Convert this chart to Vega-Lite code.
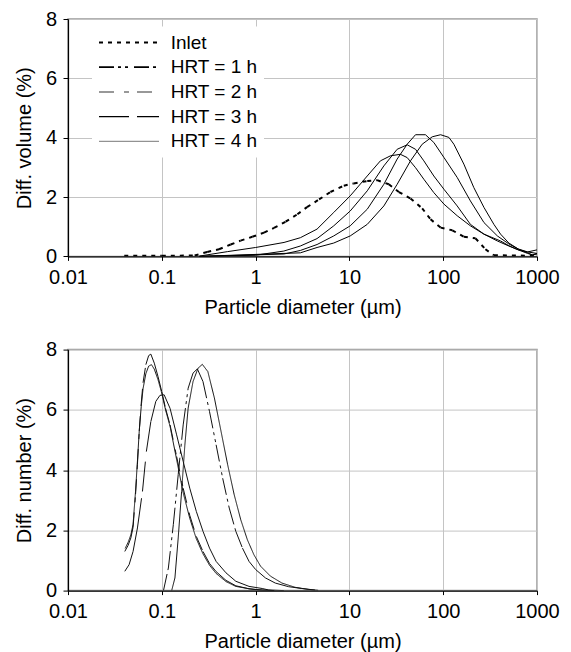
{
  "$schema": "https://vega.github.io/schema/vega-lite/v6.json",
  "background": "white",
  "padding": {"left": 14, "top": 8, "right": 5, "bottom": 5},
  "bounds": "flush",
  "spacing": 92.6,
  "datasets": {
    "vol": [
      {"s": "Inlet", "d": 0.0398, "v": 0.02}, {"s": "Inlet", "d": 0.1, "v": 0.02}, {"s": "Inlet", "d": 0.224, "v": 0.03},
      {"s": "Inlet", "d": 0.305, "v": 0.15}, {"s": "Inlet", "d": 0.407, "v": 0.24}, {"s": "Inlet", "d": 0.542, "v": 0.4},
      {"s": "Inlet", "d": 0.692, "v": 0.53}, {"s": "Inlet", "d": 0.923, "v": 0.66}, {"s": "Inlet", "d": 1.23, "v": 0.8},
      {"s": "Inlet", "d": 1.57, "v": 0.96}, {"s": "Inlet", "d": 2.09, "v": 1.17}, {"s": "Inlet", "d": 2.79, "v": 1.42},
      {"s": "Inlet", "d": 3.53, "v": 1.66}, {"s": "Inlet", "d": 4.75, "v": 1.92}, {"s": "Inlet", "d": 6.27, "v": 2.17},
      {"s": "Inlet", "d": 8.71, "v": 2.38}, {"s": "Inlet", "d": 11.1, "v": 2.46}, {"s": "Inlet", "d": 15.5, "v": 2.54},
      {"s": "Inlet", "d": 19.7, "v": 2.57}, {"s": "Inlet", "d": 26.3, "v": 2.43}, {"s": "Inlet", "d": 33.7, "v": 2.17},
      {"s": "Inlet", "d": 44.8, "v": 1.95}, {"s": "Inlet", "d": 59.7, "v": 1.62}, {"s": "Inlet", "d": 73.3, "v": 1.25},
      {"s": "Inlet", "d": 93.8, "v": 0.97}, {"s": "Inlet", "d": 125, "v": 0.88}, {"s": "Inlet", "d": 166, "v": 0.66},
      {"s": "Inlet", "d": 221, "v": 0.61}, {"s": "Inlet", "d": 282, "v": 0.24}, {"s": "Inlet", "d": 347, "v": 0.04},
      {"s": "Inlet", "d": 1000, "v": 0.02},

      {"s": "HRT = 1 h", "d": 0.251, "v": 0.01}, {"s": "HRT = 1 h", "d": 0.5, "v": 0.16}, {"s": "HRT = 1 h", "d": 1.0, "v": 0.3},
      {"s": "HRT = 1 h", "d": 2.01, "v": 0.47}, {"s": "HRT = 1 h", "d": 3.0, "v": 0.63}, {"s": "HRT = 1 h", "d": 4.52, "v": 0.92},
      {"s": "HRT = 1 h", "d": 6.81, "v": 1.48}, {"s": "HRT = 1 h", "d": 10.2, "v": 2.04}, {"s": "HRT = 1 h", "d": 15.5, "v": 2.71},
      {"s": "HRT = 1 h", "d": 21.4, "v": 3.22}, {"s": "HRT = 1 h", "d": 27.4, "v": 3.39}, {"s": "HRT = 1 h", "d": 35.0, "v": 3.44},
      {"s": "HRT = 1 h", "d": 41.3, "v": 3.33}, {"s": "HRT = 1 h", "d": 50.7, "v": 2.99}, {"s": "HRT = 1 h", "d": 62.2, "v": 2.6},
      {"s": "HRT = 1 h", "d": 79.4, "v": 2.15}, {"s": "HRT = 1 h", "d": 102, "v": 1.76}, {"s": "HRT = 1 h", "d": 141, "v": 1.37},
      {"s": "HRT = 1 h", "d": 195, "v": 1.03}, {"s": "HRT = 1 h", "d": 272, "v": 0.75}, {"s": "HRT = 1 h", "d": 378, "v": 0.52},
      {"s": "HRT = 1 h", "d": 501, "v": 0.35}, {"s": "HRT = 1 h", "d": 631, "v": 0.22}, {"s": "HRT = 1 h", "d": 794, "v": 0.15},
      {"s": "HRT = 1 h", "d": 1000, "v": 0.22},

      {"s": "HRT = 2 h", "d": 0.251, "v": 0.0}, {"s": "HRT = 2 h", "d": 1.0, "v": 0.04}, {"s": "HRT = 2 h", "d": 2.0, "v": 0.18},
      {"s": "HRT = 2 h", "d": 3.0, "v": 0.35}, {"s": "HRT = 2 h", "d": 4.52, "v": 0.6}, {"s": "HRT = 2 h", "d": 6.81, "v": 1.03},
      {"s": "HRT = 2 h", "d": 10.2, "v": 1.53}, {"s": "HRT = 2 h", "d": 15.5, "v": 2.21}, {"s": "HRT = 2 h", "d": 23.3, "v": 3.05},
      {"s": "HRT = 2 h", "d": 32.3, "v": 3.61}, {"s": "HRT = 2 h", "d": 41.3, "v": 3.76}, {"s": "HRT = 2 h", "d": 50.7, "v": 3.61},
      {"s": "HRT = 2 h", "d": 62.2, "v": 3.22}, {"s": "HRT = 2 h", "d": 79.4, "v": 2.71}, {"s": "HRT = 2 h", "d": 102, "v": 2.26},
      {"s": "HRT = 2 h", "d": 141, "v": 1.7}, {"s": "HRT = 2 h", "d": 195, "v": 1.08}, {"s": "HRT = 2 h", "d": 272, "v": 0.75},
      {"s": "HRT = 2 h", "d": 409, "v": 0.52}, {"s": "HRT = 2 h", "d": 501, "v": 0.36}, {"s": "HRT = 2 h", "d": 631, "v": 0.22},
      {"s": "HRT = 2 h", "d": 794, "v": 0.1}, {"s": "HRT = 2 h", "d": 891, "v": 0.05}, {"s": "HRT = 2 h", "d": 1000, "v": 0.1},

      {"s": "HRT = 3 h", "d": 0.251, "v": 0.0}, {"s": "HRT = 3 h", "d": 2.0, "v": 0.08}, {"s": "HRT = 3 h", "d": 3.0, "v": 0.2},
      {"s": "HRT = 3 h", "d": 4.52, "v": 0.4}, {"s": "HRT = 3 h", "d": 6.81, "v": 0.69}, {"s": "HRT = 3 h", "d": 10.2, "v": 1.03},
      {"s": "HRT = 3 h", "d": 15.5, "v": 1.59}, {"s": "HRT = 3 h", "d": 23.3, "v": 2.43}, {"s": "HRT = 3 h", "d": 32.3, "v": 3.28},
      {"s": "HRT = 3 h", "d": 41.3, "v": 3.78}, {"s": "HRT = 3 h", "d": 50.7, "v": 4.1}, {"s": "HRT = 3 h", "d": 64.7, "v": 4.1},
      {"s": "HRT = 3 h", "d": 79.4, "v": 3.84}, {"s": "HRT = 3 h", "d": 102, "v": 3.33}, {"s": "HRT = 3 h", "d": 141, "v": 2.66},
      {"s": "HRT = 3 h", "d": 195, "v": 1.87}, {"s": "HRT = 3 h", "d": 272, "v": 1.14}, {"s": "HRT = 3 h", "d": 378, "v": 0.69},
      {"s": "HRT = 3 h", "d": 501, "v": 0.42}, {"s": "HRT = 3 h", "d": 631, "v": 0.25}, {"s": "HRT = 3 h", "d": 794, "v": 0.15},
      {"s": "HRT = 3 h", "d": 1000, "v": 0.1},

      {"s": "HRT = 4 h", "d": 0.251, "v": 0.0}, {"s": "HRT = 4 h", "d": 3.0, "v": 0.12}, {"s": "HRT = 4 h", "d": 4.52, "v": 0.3},
      {"s": "HRT = 4 h", "d": 6.81, "v": 0.45}, {"s": "HRT = 4 h", "d": 10.2, "v": 0.69}, {"s": "HRT = 4 h", "d": 15.5, "v": 1.08},
      {"s": "HRT = 4 h", "d": 23.3, "v": 1.7}, {"s": "HRT = 4 h", "d": 32.3, "v": 2.43}, {"s": "HRT = 4 h", "d": 44.8, "v": 3.22},
      {"s": "HRT = 4 h", "d": 59.7, "v": 3.78}, {"s": "HRT = 4 h", "d": 76.4, "v": 4.03}, {"s": "HRT = 4 h", "d": 93.8, "v": 4.1},
      {"s": "HRT = 4 h", "d": 115, "v": 4.01}, {"s": "HRT = 4 h", "d": 130, "v": 3.78}, {"s": "HRT = 4 h", "d": 166, "v": 3.11},
      {"s": "HRT = 4 h", "d": 212, "v": 2.32}, {"s": "HRT = 4 h", "d": 272, "v": 1.65}, {"s": "HRT = 4 h", "d": 347, "v": 1.08},
      {"s": "HRT = 4 h", "d": 409, "v": 0.75}, {"s": "HRT = 4 h", "d": 501, "v": 0.45}, {"s": "HRT = 4 h", "d": 631, "v": 0.25},
      {"s": "HRT = 4 h", "d": 794, "v": 0.12}, {"s": "HRT = 4 h", "d": 891, "v": 0.05}, {"s": "HRT = 4 h", "d": 1000, "v": 0.08}
    ],
    "num": [
      {"s": "Inlet", "d": 0.1274, "v": 0}, {"s": "Inlet", "d": 0.138, "v": 0.42}, {"s": "Inlet", "d": 0.1496, "v": 1.75},
      {"s": "Inlet", "d": 0.1626, "v": 3.29}, {"s": "Inlet", "d": 0.1762, "v": 4.84}, {"s": "Inlet", "d": 0.191, "v": 6.06},
      {"s": "Inlet", "d": 0.2153, "v": 6.94}, {"s": "Inlet", "d": 0.2432, "v": 7.38}, {"s": "Inlet", "d": 0.2704, "v": 7.51},
      {"s": "Inlet", "d": 0.3097, "v": 7.27}, {"s": "Inlet", "d": 0.3639, "v": 6.39}, {"s": "Inlet", "d": 0.4285, "v": 5.28},
      {"s": "Inlet", "d": 0.5035, "v": 4.18}, {"s": "Inlet", "d": 0.5916, "v": 3.18}, {"s": "Inlet", "d": 0.695, "v": 2.35},
      {"s": "Inlet", "d": 0.8166, "v": 1.69}, {"s": "Inlet", "d": 0.9594, "v": 1.19}, {"s": "Inlet", "d": 1.13, "v": 0.81},
      {"s": "Inlet", "d": 1.439, "v": 0.48}, {"s": "Inlet", "d": 1.91, "v": 0.25}, {"s": "Inlet", "d": 2.636, "v": 0.11},
      {"s": "Inlet", "d": 3.639, "v": 0.04}, {"s": "Inlet", "d": 4.645, "v": 0.01},

      {"s": "HRT = 1 h", "d": 0.1042, "v": 0}, {"s": "HRT = 1 h", "d": 0.1175, "v": 0.75}, {"s": "HRT = 1 h", "d": 0.1327, "v": 2.19},
      {"s": "HRT = 1 h", "d": 0.1496, "v": 3.85}, {"s": "HRT = 1 h", "d": 0.169, "v": 5.5}, {"s": "HRT = 1 h", "d": 0.191, "v": 6.72},
      {"s": "HRT = 1 h", "d": 0.2153, "v": 7.22}, {"s": "HRT = 1 h", "d": 0.2393, "v": 7.36}, {"s": "HRT = 1 h", "d": 0.2748, "v": 6.94},
      {"s": "HRT = 1 h", "d": 0.3228, "v": 5.94}, {"s": "HRT = 1 h", "d": 0.3793, "v": 4.84}, {"s": "HRT = 1 h", "d": 0.4457, "v": 3.73},
      {"s": "HRT = 1 h", "d": 0.5236, "v": 2.74}, {"s": "HRT = 1 h", "d": 0.6152, "v": 1.97}, {"s": "HRT = 1 h", "d": 0.7244, "v": 1.41},
      {"s": "HRT = 1 h", "d": 0.851, "v": 0.97}, {"s": "HRT = 1 h", "d": 1.0, "v": 0.7}, {"s": "HRT = 1 h", "d": 1.274, "v": 0.42},
      {"s": "HRT = 1 h", "d": 1.622, "v": 0.25}, {"s": "HRT = 1 h", "d": 2.244, "v": 0.13}, {"s": "HRT = 1 h", "d": 3.097, "v": 0.07},
      {"s": "HRT = 1 h", "d": 4.285, "v": 0.02},

      {"s": "HRT = 2 h", "d": 0.0403, "v": 1.3}, {"s": "HRT = 2 h", "d": 0.0437, "v": 1.5}, {"s": "HRT = 2 h", "d": 0.0468, "v": 1.75},
      {"s": "HRT = 2 h", "d": 0.0494, "v": 2.1}, {"s": "HRT = 2 h", "d": 0.0525, "v": 3.2}, {"s": "HRT = 2 h", "d": 0.055, "v": 4.2},
      {"s": "HRT = 2 h", "d": 0.0575, "v": 5.3}, {"s": "HRT = 2 h", "d": 0.0603, "v": 6.2}, {"s": "HRT = 2 h", "d": 0.0631, "v": 6.9},
      {"s": "HRT = 2 h", "d": 0.0676, "v": 7.5}, {"s": "HRT = 2 h", "d": 0.0724, "v": 7.8}, {"s": "HRT = 2 h", "d": 0.0764, "v": 7.85},
      {"s": "HRT = 2 h", "d": 0.0832, "v": 7.55}, {"s": "HRT = 2 h", "d": 0.0912, "v": 7.1}, {"s": "HRT = 2 h", "d": 0.1, "v": 6.6},
      {"s": "HRT = 2 h", "d": 0.1096, "v": 6.05}, {"s": "HRT = 2 h", "d": 0.1225, "v": 5.5}, {"s": "HRT = 2 h", "d": 0.1439, "v": 4.45},
      {"s": "HRT = 2 h", "d": 0.169, "v": 3.4}, {"s": "HRT = 2 h", "d": 0.1986, "v": 2.5}, {"s": "HRT = 2 h", "d": 0.2333, "v": 1.8},
      {"s": "HRT = 2 h", "d": 0.2748, "v": 1.3}, {"s": "HRT = 2 h", "d": 0.3228, "v": 0.9}, {"s": "HRT = 2 h", "d": 0.3793, "v": 0.63},
      {"s": "HRT = 2 h", "d": 0.4831, "v": 0.34}, {"s": "HRT = 2 h", "d": 0.6152, "v": 0.16}, {"s": "HRT = 2 h", "d": 0.851, "v": 0.06},
      {"s": "HRT = 2 h", "d": 1.084, "v": 0.02}, {"s": "HRT = 2 h", "d": 1.585, "v": 0.0},

      {"s": "HRT = 3 h", "d": 0.0403, "v": 0.64}, {"s": "HRT = 3 h", "d": 0.0448, "v": 0.86}, {"s": "HRT = 3 h", "d": 0.0494, "v": 1.3},
      {"s": "HRT = 3 h", "d": 0.055, "v": 2.08}, {"s": "HRT = 3 h", "d": 0.0622, "v": 3.29}, {"s": "HRT = 3 h", "d": 0.0685, "v": 4.62},
      {"s": "HRT = 3 h", "d": 0.0764, "v": 5.61}, {"s": "HRT = 3 h", "d": 0.0863, "v": 6.28}, {"s": "HRT = 3 h", "d": 0.0955, "v": 6.48},
      {"s": "HRT = 3 h", "d": 0.1059, "v": 6.5}, {"s": "HRT = 3 h", "d": 0.1225, "v": 6.05}, {"s": "HRT = 3 h", "d": 0.1439, "v": 5.17},
      {"s": "HRT = 3 h", "d": 0.169, "v": 4.29}, {"s": "HRT = 3 h", "d": 0.1986, "v": 3.4}, {"s": "HRT = 3 h", "d": 0.2333, "v": 2.63},
      {"s": "HRT = 3 h", "d": 0.2748, "v": 1.97}, {"s": "HRT = 3 h", "d": 0.3228, "v": 1.41}, {"s": "HRT = 3 h", "d": 0.3793, "v": 0.97},
      {"s": "HRT = 3 h", "d": 0.4831, "v": 0.59}, {"s": "HRT = 3 h", "d": 0.6152, "v": 0.31}, {"s": "HRT = 3 h", "d": 0.851, "v": 0.14},
      {"s": "HRT = 3 h", "d": 1.175, "v": 0.07}, {"s": "HRT = 3 h", "d": 1.38, "v": 0.02}, {"s": "HRT = 3 h", "d": 2.0, "v": 0.0},

      {"s": "HRT = 4 h", "d": 0.0407, "v": 1.4}, {"s": "HRT = 4 h", "d": 0.0437, "v": 1.6}, {"s": "HRT = 4 h", "d": 0.0468, "v": 1.85},
      {"s": "HRT = 4 h", "d": 0.0494, "v": 2.2}, {"s": "HRT = 4 h", "d": 0.0525, "v": 3.3}, {"s": "HRT = 4 h", "d": 0.055, "v": 4.3},
      {"s": "HRT = 4 h", "d": 0.0575, "v": 5.3}, {"s": "HRT = 4 h", "d": 0.0603, "v": 6.1}, {"s": "HRT = 4 h", "d": 0.0631, "v": 6.7},
      {"s": "HRT = 4 h", "d": 0.0676, "v": 7.2}, {"s": "HRT = 4 h", "d": 0.0724, "v": 7.45}, {"s": "HRT = 4 h", "d": 0.0776, "v": 7.5},
      {"s": "HRT = 4 h", "d": 0.0832, "v": 7.35}, {"s": "HRT = 4 h", "d": 0.0912, "v": 7.0}, {"s": "HRT = 4 h", "d": 0.1, "v": 6.55},
      {"s": "HRT = 4 h", "d": 0.1096, "v": 6.0}, {"s": "HRT = 4 h", "d": 0.1225, "v": 5.45}, {"s": "HRT = 4 h", "d": 0.1439, "v": 4.35},
      {"s": "HRT = 4 h", "d": 0.169, "v": 3.25}, {"s": "HRT = 4 h", "d": 0.1986, "v": 2.4}, {"s": "HRT = 4 h", "d": 0.2333, "v": 1.72},
      {"s": "HRT = 4 h", "d": 0.2748, "v": 1.22}, {"s": "HRT = 4 h", "d": 0.3228, "v": 0.84}, {"s": "HRT = 4 h", "d": 0.3793, "v": 0.57},
      {"s": "HRT = 4 h", "d": 0.4831, "v": 0.3}, {"s": "HRT = 4 h", "d": 0.6152, "v": 0.14}, {"s": "HRT = 4 h", "d": 0.851, "v": 0.06},
      {"s": "HRT = 4 h", "d": 1.175, "v": 0.02}, {"s": "HRT = 4 h", "d": 1.585, "v": 0.0}
    ]
  },
  "vconcat": [
    {
      "width": 469,
      "height": 237.4,
      "data": {"name": "vol"},
      "transform": [
        {"window": [{"op": "lead", "field": "d", "as": "d2"}, {"op": "lead", "field": "v", "as": "v2"}], "groupby": ["s"], "sort": [{"field": "d"}]},
        {"filter": "datum.d2 != null"}
      ],
      "encoding": {
        "x": {"field": "d", "type": "quantitative", "scale": {"type": "log", "domain": [0.01, 1000]},
              "axis": {"values": [0.01, 0.1, 1, 10, 100, 1000], "format": "~g", "title": "Particle diameter (µm)"}},
        "y": {"field": "v", "type": "quantitative", "scale": {"domain": [0, 8], "nice": false},
              "axis": {"values": [0, 2, 4, 6, 8], "format": "d", "title": "Diff. volume (%)"}}
      },
      "layer": [
        {
          "transform": [{"filter": "datum.s == 'Inlet'"}],
          "mark": {"type": "rule", "clip": true, "color": "#000000", "strokeWidth": 2, "strokeDash": [4, 5]},
          "encoding": {"x2": {"field": "d2"}, "y2": {"field": "v2"}}
        },
        {
          "transform": [{"filter": "datum.s != 'Inlet'"}],
          "mark": {"type": "rule", "clip": true, "color": "#000000", "strokeWidth": 1},
          "encoding": {"x2": {"field": "d2"}, "y2": {"field": "v2"}}
        },
        {
          "transform": [{"filter": "datum.d < 0"}],
          "mark": {"type": "rule"},
          "encoding": {
            "color": {"field": "s", "type": "nominal",
                  "scale": {"domain": ["Inlet", "HRT = 1 h", "HRT = 2 h", "HRT = 3 h", "HRT = 4 h"], "range": ["#000000", "#000000", "#777777", "#000000", "#777777"]},
                  "legend": {"title": null, "orient": "none", "legendX": 24, "legendY": 7.5, "symbolSize": 3600, "labelOffset": 10.7, "rowPadding": 4.7}},
            "strokeDash": {"field": "s", "type": "nominal",
                  "scale": {"domain": ["Inlet", "HRT = 1 h", "HRT = 2 h", "HRT = 3 h", "HRT = 4 h"], "range": [[4, 5], [15, 4, 3, 4, 3, 6], [15, 10, 5, 8], [30, 8], [1, 0]]},
                  "legend": {"title": null, "orient": "none", "legendX": 24, "legendY": 7.5, "symbolSize": 3600, "labelOffset": 10.7, "rowPadding": 4.7}},
            "strokeWidth": {"field": "s", "type": "nominal",
                  "scale": {"domain": ["Inlet", "HRT = 1 h", "HRT = 2 h", "HRT = 3 h", "HRT = 4 h"], "range": [2, 1, 1, 1, 1]},
                  "legend": {"title": null, "orient": "none", "legendX": 24, "legendY": 7.5, "symbolSize": 3600, "labelOffset": 10.7, "rowPadding": 4.7}}
          }
        }
      ]
    },
    {
      "width": 469,
      "height": 241,
      "data": {"name": "num"},
      "transform": [
        {"window": [{"op": "lead", "field": "d", "as": "d2"}, {"op": "lead", "field": "v", "as": "v2"}], "groupby": ["s"], "sort": [{"field": "d"}]},
        {"filter": "datum.d2 != null"}
      ],
      "encoding": {
        "x": {"field": "d", "type": "quantitative", "scale": {"type": "log", "domain": [0.01, 1000]},
              "axis": {"values": [0.01, 0.1, 1, 10, 100, 1000], "format": "~g", "title": "Particle diameter (µm)"}},
        "y": {"field": "v", "type": "quantitative", "scale": {"domain": [0, 8], "nice": false},
              "axis": {"values": [0, 2, 4, 6, 8], "format": "d", "title": "Diff. number (%)"}}
      },
      "layer": [
        {
          "mark": {"type": "rule", "clip": true, "color": "#111111", "strokeWidth": 1},
          "encoding": {
            "x2": {"field": "d2"},
            "y2": {"field": "v2"},
            "strokeDash": {"field": "s", "type": "nominal", "legend": null,
                  "scale": {"domain": ["Inlet", "HRT = 1 h", "HRT = 2 h", "HRT = 3 h", "HRT = 4 h"], "range": [[1, 0], [17, 4, 3, 4, 3, 4], [15, 10, 5, 10], [30, 10], [1, 0]]}}
          }
        },
        {
          "transform": [{"filter": "datum.d < 0"}],
          "mark": {"type": "rule", "strokeWidth": 1},
          "encoding": {
            "color": {"field": "s", "type": "nominal",
                  "scale": {"domain": ["Inlet", "HRT = 1 h", "HRT = 2 h", "HRT = 3 h", "HRT = 4 h"], "range": ["#777777", "#000000", "#777777", "#000000", "#777777"]},
                  "legend": {"title": null, "orient": "none", "legendX": 262, "legendY": 8, "symbolSize": 4096, "labelOffset": 19, "rowPadding": 3.8}},
            "strokeDash": {"field": "s", "type": "nominal",
                  "scale": {"domain": ["Inlet", "HRT = 1 h", "HRT = 2 h", "HRT = 3 h", "HRT = 4 h"], "range": [[1, 0], [17, 4, 3, 4, 3, 4], [15, 10, 5, 10], [30, 10], [1, 0]]},
                  "legend": {"title": null, "orient": "none", "legendX": 262, "legendY": 8, "symbolSize": 4096, "labelOffset": 19, "rowPadding": 3.8}}
          }
        }
      ]
    }
  ],
  "resolve": {
    "scale": {"color": "independent", "strokeDash": "independent", "strokeWidth": "independent", "x": "independent", "y": "independent"},
    "legend": {"color": "independent", "strokeDash": "independent", "strokeWidth": "independent"}
  },
  "config": {
    "font": "Liberation Sans",
    "view": {"stroke": "#999999", "strokeWidth": 1.5},
    "axis": {
      "labelFont": "Liberation Sans", "labelFontSize": 20, "labelColor": "#000000",
      "titleFont": "Liberation Sans", "titleFontSize": 20, "titleFontWeight": "normal", "titleColor": "#000000",
      "domainColor": "#000000", "domainWidth": 1.2, "tickColor": "#000000", "tickSize": 4,
      "gridColor": "#c4c4c4", "gridWidth": 1, "labelFlush": false, "labelOverlap": false
    },
    "axisX": {"labelPadding": 7, "titlePadding": 10},
    "axisY": {"labelPadding": 6.5, "titlePadding": 10.5, "tickSize": 5},
    "legend": {
      "labelFont": "Liberation Sans", "labelFontSize": 19, "labelColor": "#000000",
      "symbolType": "stroke", "clipHeight": 20, "padding": 6, "fillColor": "white",
      "symbolStrokeWidth": 1, "labelLimit": 300
    }
  }
}
